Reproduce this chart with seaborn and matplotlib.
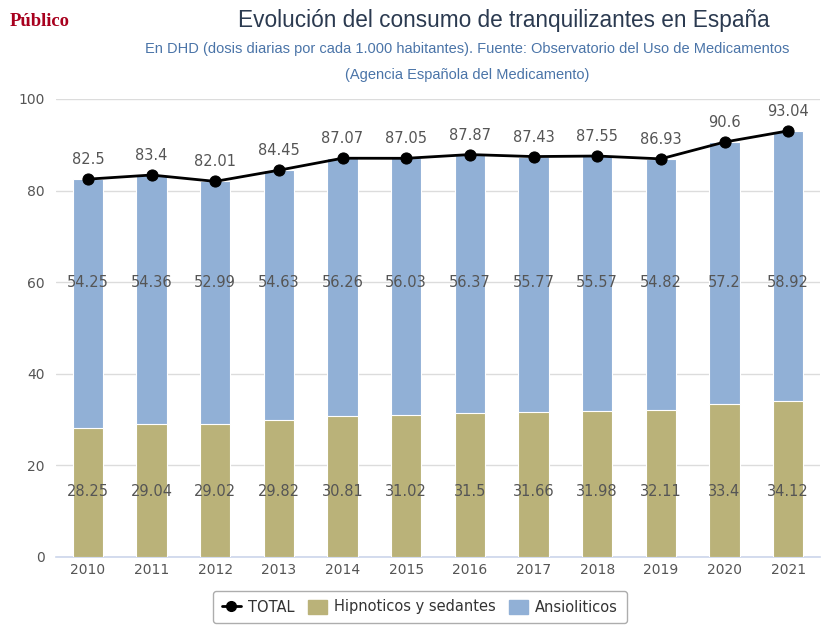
import matplotlib
matplotlib.use("Agg")
import matplotlib.pyplot as plt
import seaborn as sns
import numpy as np
import pandas as pd
from matplotlib.lines import Line2D
from matplotlib.patches import Patch

years = ["2010", "2011", "2012", "2013", "2014", "2015", "2016", "2017", "2018", "2019", "2020", "2021"]
hipnoticos = [28.25, 29.04, 29.02, 29.82, 30.81, 31.02, 31.5, 31.66, 31.98, 32.11, 33.4, 34.12]
ansioliticos = [54.25, 54.36, 52.99, 54.63, 56.26, 56.03, 56.37, 55.77, 55.57, 54.82, 57.2, 58.92]
total = [82.5, 83.4, 82.01, 84.45, 87.07, 87.05, 87.87, 87.43, 87.55, 86.93, 90.6, 93.04]
y_ticks = [0, 20, 40, 60, 80, 100]

title = "Evolución del consumo de tranquilizantes en España"
subtitle1 = "En DHD (dosis diarias por cada 1.000 habitantes). Fuente: Observatorio del Uso de Medicamentos"
subtitle2 = "(Agencia Española del Medicamento)"

c_hip = "#bab279"
c_ans = "#91b0d6"
c_text = "#555555"

sns.set_theme(style="white")
plt.rcParams["font.family"] = ["DejaVu Sans"]

df = pd.DataFrame({"year": years, "hip": hipnoticos, "ans": ansioliticos, "total": total})
df["stack"] = df["hip"] + df["ans"]

fig = plt.figure(figsize=(8.27, 6.32), dpi=100)
ax = fig.add_axes([56/827, 1-557/632, (820-56)/827, (557-99)/632])

sns.barplot(data=df, x="year", y="stack", color=c_ans, width=0.48, ax=ax,
            edgecolor="white", linewidth=0.8, saturation=1, zorder=2)
sns.barplot(data=df, x="year", y="hip", color=c_hip, width=0.48, ax=ax,
            edgecolor="white", linewidth=0.8, saturation=1, zorder=3)

xpos = np.arange(len(years))
sns.lineplot(x=xpos, y=df["total"].values, ax=ax, color="black", linewidth=2,
             marker="o", markersize=8, markeredgecolor="black", zorder=5)

for i in range(len(years)):
    ax.text(i, total[i] + 2.6, f"{total[i]:g}", ha="center", va="bottom",
            fontsize=10.5, color=c_text, zorder=6)
    ax.text(i, 60, f"{ansioliticos[i]:g}", ha="center", va="center",
            fontsize=10.5, color=c_text, zorder=6)
    ax.text(i, 14.2, f"{hipnoticos[i]:g}", ha="center", va="center",
            fontsize=10.5, color=c_text, zorder=6)

ax.set_xlim(-0.5, len(years) - 0.5)
ax.set_ylim(0, 100)
ax.set_yticks(y_ticks)
ax.set_yticklabels([str(t) for t in y_ticks])
ax.set_xlabel("")
ax.set_ylabel("")
ax.yaxis.grid(True, color="#dcdcdc", linewidth=1)
ax.set_axisbelow(True)
for s in ["top", "right", "left"]:
    ax.spines[s].set_visible(False)
ax.spines["bottom"].set_color("#ccd6eb")
ax.spines["bottom"].set_linewidth(1.2)
ax.tick_params(axis="y", length=0, labelsize=10, labelcolor=c_text, pad=8)
ax.tick_params(axis="x", length=0, labelsize=10, labelcolor=c_text, pad=4)
ax.set_xticks(np.arange(-0.5, len(years)), minor=True)
ax.tick_params(axis="x", which="minor", length=9, color="#ccd6eb", width=1.2, direction="out")

fig.text(504/827, 1 - 21/632, title, ha="center", va="center", fontsize=16.3,
         color="#2b3a50", family="Liberation Sans")
fig.text(467/827, 1 - 49/632, subtitle1, ha="center", va="center", fontsize=10.5,
         color="#4a74a8", family="Liberation Sans")
fig.text(467/827, 1 - 75/632, subtitle2, ha="center", va="center", fontsize=10.5,
         color="#4a74a8", family="Liberation Sans")
fig.text(10/827, 1 - 22/632, "Público", ha="left", va="center", fontsize=13.4,
         color="#a8001e", family="Liberation Serif", fontweight="bold")

handles = [
    Line2D([0], [0], color="black", linewidth=2, marker="o", markersize=7),
    Patch(facecolor=c_hip, edgecolor=c_hip),
    Patch(facecolor=c_ans, edgecolor=c_ans),
]
labels = ["TOTAL", "Hipnoticos y sedantes", "Ansioliticos"]
leg = fig.legend(handles, labels, loc="center", bbox_to_anchor=(420/827, 1 - 607/632),
                 ncol=3, frameon=True, fontsize=10.5, handlelength=1.3, handleheight=1.1,
                 columnspacing=0.9, handletextpad=0.5, borderpad=0.6, fancybox=True)
leg.get_frame().set_edgecolor("#999999")
leg.get_frame().set_linewidth(1)
for t in leg.get_texts():
    t.set_color("#333333")

fig.savefig("out.png", dpi=100)
